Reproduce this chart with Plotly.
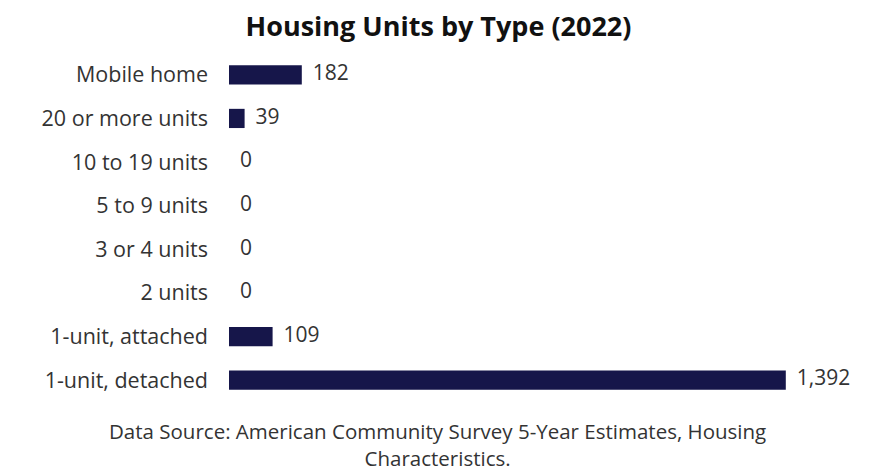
import plotly.graph_objects as go

categories = ["1-unit, detached", "1-unit, attached", "2 units", "3 or 4 units",
              "5 to 9 units", "10 to 19 units", "20 or more units", "Mobile home"]
values = [1392, 109, 0, 0, 0, 0, 39, 182]
labels = [f"{v:,}" for v in values]

title_text = "Housing Units by Type (2022)"
source_text = "Data Source: American Community Survey 5-Year Estimates, Housing<br>Characteristics."

bar_color = "#16164a"
text_color = "#333333"
font_fam = "Open Sans, sans-serif"

fig = go.Figure()
fig.add_trace(go.Bar(
    y=categories, x=values, orientation="h",
    marker=dict(color=bar_color, line=dict(width=0)),
    width=0.44,
    hoverinfo="skip",
))
fig.add_trace(go.Scatter(
    y=categories, x=values, mode="text",
    text=["  " + t for t in labels], textposition="middle right",
    textfont=dict(size=21, color=text_color, family=font_fam),
    cliponaxis=False, hoverinfo="skip",
))

fig.update_layout(
    width=861, height=463,
    paper_bgcolor="white", plot_bgcolor="white",
    margin=dict(l=221, r=60, t=45, b=69, autoexpand=False),
    showlegend=False,
    title=dict(text="<b>" + title_text + "</b>", x=0.5, xanchor="center",
               y=0.959, yanchor="middle",
               font=dict(size=27, color="#111111", family=font_fam)),
    xaxis=dict(range=[0, 1450], visible=False, showgrid=False, zeroline=False),
    yaxis=dict(showgrid=False, zeroline=False, showline=False, ticks="",
               ticklabelstandoff=20, automargin=False,
               tickfont=dict(size=21.5, color=text_color, family=font_fam)),
    annotations=[
        dict(text=source_text, x=0.359, xref="paper", xanchor="center",
             y=-0.123, yref="paper", yanchor="middle", showarrow=False,
             font=dict(size=20.5, color=text_color, family=font_fam)),
    ],
)

fig.write_html("out.html")
